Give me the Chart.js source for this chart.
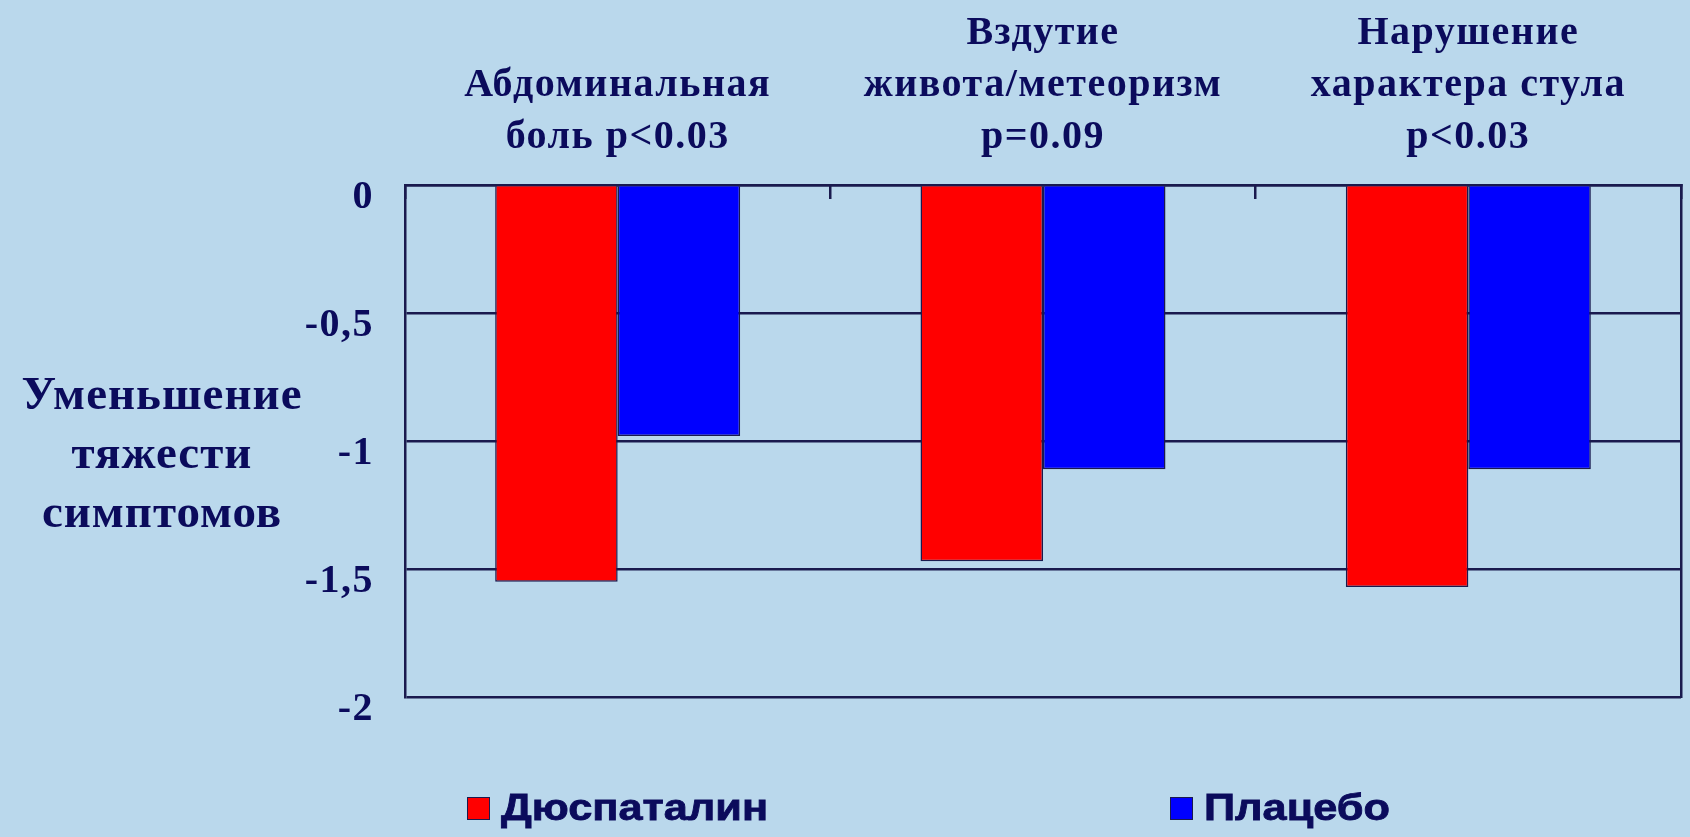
<!DOCTYPE html>
<html>
<head>
<meta charset="utf-8">
<script src="https://cdn.jsdelivr.net/npm/chart.js@4"></script>
<style>
  body { margin: 0; background: #bad8ec; }
  #wrap { position: relative; width: 1690px; height: 837px; }
  #yTitle {
    position: absolute; left: 0; width: 324px; top: 364px;
    text-align: center; color: #0b0b5c; letter-spacing: 1px;
    font: bold 47px "Liberation Serif", "Times New Roman", serif; line-height: 59px;
  }
  .leg { position: absolute; top: 784px; height: 46px; color: #0b0b5c;
    font: bold 37px "Liberation Sans", Arial, sans-serif; line-height: 46px; white-space: nowrap; }
  .leg i { position: absolute; left: 0; top: 13px; width: 21px; height: 21px; border: 1.5px solid #1a1a4e; }
  .leg span { position: absolute; left: 34px; top: 1px; -webkit-text-stroke: 0.8px #0b0b5c;
    transform: scaleX(1.17); transform-origin: left center; }
</style>
</head>
<body>
<div id="wrap">
  <canvas id="barChart" width="1690" height="837"></canvas>
  <div id="yTitle">Уменьшение<br>тяжести<br>симптомов</div>
  <div id="legend"></div>
</div>
<script>
const categories = [
    ['Абдоминальная', 'боль p<0.03'],
    ['Вздутие', 'живота/метеоризм', 'p=0.09'],
    ['Нарушение', 'характера стула', 'p<0.03']
];
const seriesNames = ['Дюспаталин', 'Плацебо'];
const duspatalin = [-1.55, -1.47, -1.57];
const placebo = [-0.98, -1.11, -1.11];
const yTicks = [-2, -1.5, -1, -0.5, 0];

const navy = '#1a1a4e';
const textColor = '#0b0b5c';

// legend drawn as html, positions as in the picture
const legendLeft = [467, 1170];
const legendColors = ['#ff0000', '#0000ff'];
document.getElementById('legend').innerHTML = seriesNames.map((name, i) =>
    '<div class="leg" style="left:' + legendLeft[i] + 'px"><i style="background:' + legendColors[i] + '"></i><span>' + name + '</span></div>'
).join('');

const ctx = document.getElementById('barChart').getContext('2d');
const barChart = new Chart(ctx, {
    type: 'bar',
    data: {
        labels: categories,
        datasets: [{
            label: seriesNames[0],
            data: duspatalin,
            backgroundColor: '#ff0000',
            borderColor: navy,
            borderWidth: 1.5
        }, {
            label: seriesNames[1],
            data: placebo,
            backgroundColor: '#0000ff',
            borderColor: navy,
            borderWidth: 1.5
        }]
    },
    options: {
        responsive: false,
        animation: false,
        categoryPercentage: 0.576,
        barPercentage: 1.0,
        layout: { padding: { left: 0, right: 9, top: 0, bottom: 140 } },
        scales: {
            x: {
                position: 'top',
                afterFit: (scale) => { scale.height = 185; },
                grid: {
                    offset: true,
                    drawOnChartArea: false,
                    drawTicks: true,
                    tickLength: -14,
                    tickColor: navy,
                    lineWidth: 2.5
                },
                border: { display: true, color: navy, width: 2.5 },
                ticks: {
                    autoSkip: false,
                    maxRotation: 0,
                    minRotation: 0,
                    padding: 36,
                    color: textColor,
                    font: { family: '"Liberation Serif", "Times New Roman", serif', size: 40, weight: 'bold', lineHeight: 1.29 }
                }
            },
            y: {
                min: yTicks[0],
                max: yTicks[yTicks.length - 1],
                afterFit: (scale) => { scale.width = 405; },
                afterBuildTicks: (scale) => { scale.ticks = yTicks.map(v => ({ value: v })); },
                grid: { color: navy, lineWidth: 2.5, drawTicks: false },
                border: { display: true, color: navy, width: 2.5 },
                ticks: {
                    padding: 31,
                    labelOffset: 13,
                    color: textColor,
                    font: { family: '"Liberation Serif", "Times New Roman", serif', size: 40, weight: 'bold' },
                    callback: (value) => String(value).replace('.', ',')
                }
            },
            y2: {
                position: 'right',
                min: yTicks[0],
                max: yTicks[yTicks.length - 1],
                afterFit: (scale) => { scale.width = 0; },
                grid: { drawOnChartArea: false, drawTicks: false },
                border: { display: true, color: navy, width: 2.5 },
                ticks: { display: false }
            }
        },
        plugins: {
            legend: { display: false },
            tooltip: { enabled: false }
        }
    },
    plugins: [{
        // the slide text is a bit spaced out
        id: 'textSpacing',
        beforeDraw: (chart) => { chart.ctx.letterSpacing = '1.5px'; },
        afterDraw: (chart) => { chart.ctx.letterSpacing = '0px'; }
    }]
});
</script>
</body>
</html>
